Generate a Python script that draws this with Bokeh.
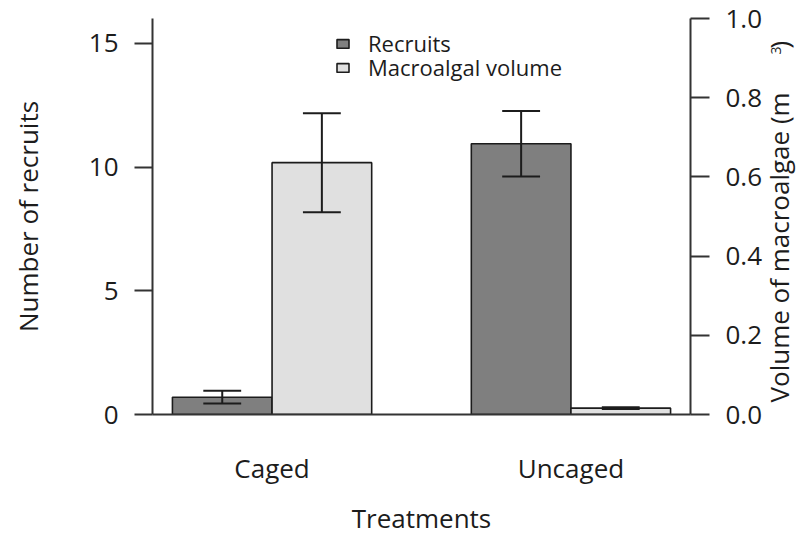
import math
from bokeh.plotting import figure
from bokeh.layouts import row
from bokeh.models import (Range1d, LinearAxis, FixedTicker, PrintfTickFormatter,
                          Label, Legend, LegendItem)
from bokeh.embed import file_html
from bokeh.resources import INLINE

# ---- data ----
treatments = ["Caged", "Uncaged"]
recruits = [0.70, 10.94]          # mean number of recruits
recruits_se = [0.26, 1.32]        # error bar half-length
volume = [0.636, 0.016]           # macroalgal volume (m^3)
volume_se = [0.125, 0.002]
left_ticks = [0, 5, 10, 15]
right_ticks = [0.0, 0.2, 0.4, 0.6, 0.8, 1.0]
series_names = ["Recruits", "Macroalgal volume"]

FONT = "Open Sans"
DARK = "#7f7f7f"
LIGHT = "#e0e0e0"
INK = "#1c1c1c"
AXIS = "#333333"

H = 538
W_MAIN = 765
W_SIDE = 31
FRAME_TOP, FRAME_BOTTOM = 18, 414

# bar layout (R barplot beside=TRUE, space=c(0,1))
group_x = [2 + 3 * i for i in range(len(treatments))]
rec_x = [g - 0.5 for g in group_x]
vol_x = [g + 0.5 for g in group_x]
cap = 0.19

p = figure(width=W_MAIN, height=H, output_backend="svg", toolbar_location=None,
           x_range=Range1d(0.8, 6.2), y_range=Range1d(0, 16),
           min_border_left=152, min_border_right=W_MAIN - 693,
           min_border_top=FRAME_TOP, min_border_bottom=H - FRAME_BOTTOM)
p.extra_y_ranges = {"vol": Range1d(0, 1)}
p.outline_line_color = None
p.xgrid.visible = False
p.ygrid.visible = False

r_rec = p.vbar(x=rec_x, top=recruits, bottom=0, width=1.0,
               fill_color=DARK, line_color=INK, line_width=1.6)
r_vol = p.vbar(x=vol_x, top=volume, bottom=0, width=1.0, y_range_name="vol",
               fill_color=LIGHT, line_color=INK, line_width=1.6)

# error bars
rec_lo = [m - s for m, s in zip(recruits, recruits_se)]
rec_hi = [m + s for m, s in zip(recruits, recruits_se)]
vol_lo = [m - s for m, s in zip(volume, volume_se)]
vol_hi = [m + s for m, s in zip(volume, volume_se)]
ekw = dict(line_color=INK, line_width=2)
p.segment(x0=rec_x, x1=rec_x, y0=rec_lo, y1=rec_hi, **ekw)
p.segment(x0=[x - cap for x in rec_x], x1=[x + cap for x in rec_x], y0=rec_hi, y1=rec_hi, **ekw)
p.segment(x0=[x - cap for x in rec_x], x1=[x + cap for x in rec_x], y0=rec_lo, y1=rec_lo, **ekw)
p.segment(x0=vol_x, x1=vol_x, y0=vol_lo, y1=vol_hi, y_range_name="vol", **ekw)
p.segment(x0=[x - cap for x in vol_x], x1=[x + cap for x in vol_x], y0=vol_hi, y1=vol_hi,
          y_range_name="vol", **ekw)
p.segment(x0=[x - cap for x in vol_x], x1=[x + cap for x in vol_x], y0=vol_lo, y1=vol_lo,
          y_range_name="vol", **ekw)


def style_axis(ax, size="26px"):
    ax.axis_line_color = AXIS
    ax.axis_line_width = 2
    ax.major_tick_line_color = AXIS
    ax.major_tick_line_width = 2
    ax.minor_tick_line_color = None
    ax.major_tick_in = 0
    ax.major_label_text_font = FONT
    ax.major_label_text_font_size = size
    ax.major_label_text_color = INK
    ax.axis_label_text_font = FONT
    ax.axis_label_text_font_size = size
    ax.axis_label_text_font_style = "normal"
    ax.axis_label_text_color = INK


# left axis
ly = p.yaxis[0]
style_axis(ly)
ly.ticker = FixedTicker(ticks=left_ticks)
ly.major_tick_out = 18
ly.major_label_standoff = 16
ly.axis_label = "Number of recruits"
ly.axis_label_standoff = 40

# right axis
ry = LinearAxis(y_range_name="vol", ticker=FixedTicker(ticks=right_ticks),
                formatter=PrintfTickFormatter(format="%.1f"))
style_axis(ry)
ry.major_tick_out = 19
ry.major_label_standoff = 16
p.add_layout(ry, "right")

# bottom axis
bx = p.xaxis[0]
style_axis(bx)
bx.ticker = FixedTicker(ticks=group_x)
bx.major_label_overrides = {g: t for g, t in zip(group_x, treatments)}
bx.major_tick_out = 0
bx.major_tick_line_color = None
bx.major_label_standoff = 35
bx.axis_label = "Treatments"
bx.axis_label_standoff = 11

# legend: one entry per legend box so that the rows sit close together
leg_kw = dict(padding=0, margin=0, spacing=0, glyph_width=15, glyph_height=11,
              label_standoff=18, label_text_font=FONT, label_text_font_size="22px",
              label_text_color=INK, border_line_color=None, background_fill_alpha=0)
p.add_layout(Legend(items=[LegendItem(label=series_names[0], renderers=[r_rec])],
                    location=(183, 356), **leg_kw))
p.add_layout(Legend(items=[LegendItem(label=series_names[1], renderers=[r_vol])],
                    location=(183, 332), **leg_kw))

# side strip carrying the right-hand axis title (m^3 written in pieces as in the
# figure); its frame is aligned with the main frame (top 18, bottom 414)
side = figure(width=W_SIDE, height=H, output_backend="svg", toolbar_location=None,
              x_axis_location=None, y_axis_location=None,
              min_border_left=0, min_border_right=0,
              min_border_top=FRAME_TOP, min_border_bottom=H - FRAME_BOTTOM,
              x_range=Range1d(0, W_SIDE), y_range=Range1d(0, FRAME_BOTTOM - FRAME_TOP))
side.outline_line_color = None
side.grid.visible = False

lbl = dict(x_units="screen", y_units="screen", text_font=FONT, text_color=INK,
           angle=math.pi / 2, text_align="left", text_baseline="middle")
side.add_layout(Label(x=13, y=FRAME_BOTTOM - 402, text="Volume of macroalgae (m",
                      text_font_size="26px", **lbl))
side.add_layout(Label(x=10, y=FRAME_BOTTOM - 54, text="3", text_font_size="14px", **lbl))
side.add_layout(Label(x=13, y=FRAME_BOTTOM - 48, text=")",
                      text_font_size="26px", **lbl))

layout = row(p, side, spacing=0)
open("out.html", "w").write(file_html(layout, INLINE))
